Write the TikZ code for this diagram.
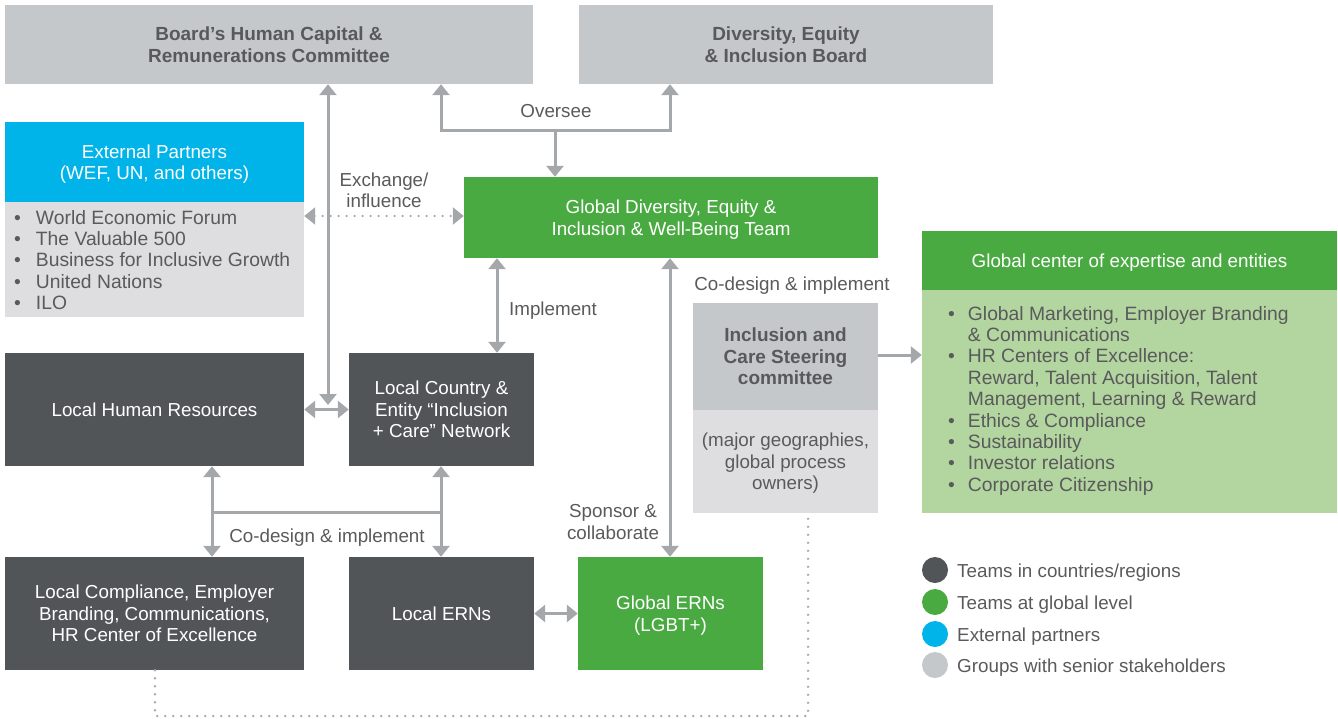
\documentclass[tikz,border=0pt]{standalone}
\usepackage{fontspec}
\setmainfont{Liberation Sans}
\usetikzlibrary{arrows.meta}
\definecolor{boardgray}{HTML}{C5C8CB}
\definecolor{palegray}{HTML}{DEDEE0}
\definecolor{darkbox}{HTML}{525558}
\definecolor{greenbox}{HTML}{4AAA42}
\definecolor{palegreen}{HTML}{B3D59F}
\definecolor{cyanbox}{HTML}{00B4EA}
\definecolor{arrowgray}{HTML}{A5A8AB}
\definecolor{textgray}{HTML}{5A5A5C}
\definecolor{boldgray}{HTML}{58595B}
\begin{document}
\begin{tikzpicture}[x=1pt,y=-1pt,
  txt/.style={font=\fontsize{18.8}{21.5}\selectfont, align=center, inner sep=0pt},
  listtxt/.style={font=\fontsize{19.3}{21.4}\selectfont, align=left, inner sep=0pt, text=textgray, anchor=north west},
  boxtxt/.style={txt, text depth=0pt},
  darkbx/.style={boxtxt, fill=darkbox, text=white},
  greenbx/.style={boxtxt, fill=greenbox, text=white},
  graybx/.style={boxtxt, fill=boardgray, text=boldgray, font=\fontsize{19}{21.5}\selectfont\bfseries},
  palebx/.style={boxtxt, fill=palegray, text=textgray},
  lbl/.style={txt, text depth=0pt, text=textgray},
  conn/.style={draw=arrowgray, line width=3pt, line join=miter, >={Triangle[width=17pt,length=11pt]}},
  dots/.style={draw=arrowgray, line width=2.6pt, line cap=round, dash pattern=on 0pt off 8pt},
  legdot/.style={circle, minimum size=26pt, inner sep=0pt}
]
\useasboundingbox (0,0) rectangle (1338,720);

% top boards
\node[graybx, minimum width=528pt, minimum height=79pt] (board) at (269,44.5) {Board’s Human Capital \&\\Remunerations Committee};
\node[graybx, minimum width=414pt, minimum height=79pt] (dei) at (786,44.5) {Diversity, Equity\\\& Inclusion Board};

% external partners
\node[boxtxt, fill=cyanbox, text=white, minimum width=299pt, minimum height=80pt] (exth) at (154.5,162) {External Partners\\(WEF, UN, and others)};
\node[palebx, minimum width=299pt, minimum height=115pt] (extb) at (154.5,259.5) {};
\node[listtxt] (extlist) at (14,210)
 {\textbullet\hspace{15pt}World Economic Forum\\
  \textbullet\hspace{15pt}The Valuable 500\\
  \textbullet\hspace{15pt}Business for Inclusive Growth\\
  \textbullet\hspace{15pt}United Nations\\
  \textbullet\hspace{15pt}ILO};

% global DEI team
\node[greenbx, minimum width=414pt, minimum height=81pt] (gdei) at (671,217.5) {Global Diversity, Equity \&\\Inclusion \& Well-Being Team};

% local boxes
\node[darkbx, minimum width=299pt, minimum height=113pt] (lhr) at (154.5,409.5) {Local Human Resources};
\node[darkbx, minimum width=185pt, minimum height=113pt] (lcn) at (441.5,409.5) {Local Country \&\\Entity “Inclusion\\+ Care” Network};
\node[darkbx, minimum width=299pt, minimum height=113pt] (lcomp) at (154.5,613.5) {Local Compliance, Employer\\Branding, Communications,\\HR Center of Excellence};
\node[darkbx, minimum width=185pt, minimum height=113pt] (lern) at (441.5,613.5) {Local ERNs};
\node[greenbx, minimum width=185pt, minimum height=113pt] (gern) at (670.5,613.5) {Global ERNs\\(LGBT+)};

% steering committee
\node[graybx, minimum width=185pt, minimum height=107pt] (steer) at (785.5,356.5) {Inclusion and\\Care Steering\\committee};
\node[palebx, minimum width=185pt, minimum height=103pt] (steerlow) at (785.5,461.5) {(major geographies,\\global process\\owners)};

% global center
\node[greenbx, minimum width=415pt, minimum height=59pt] (gceh) at (1129.5,260.5) {Global center of expertise and entities};
\node[boxtxt, fill=palegreen, minimum width=415pt, minimum height=223pt] (gceb) at (1129.5,401.5) {};
\node[listtxt] (gcelist) at (948,306)
 {\textbullet\hspace{13pt}Global Marketing, Employer Branding\\
  \phantom{\textbullet}\hspace{13pt}\& Communications\\
  \textbullet\hspace{13pt}HR Centers of Excellence:\\
  \phantom{\textbullet}\hspace{13pt}Reward, Talent Acquisition, Talent\\
  \phantom{\textbullet}\hspace{13pt}Management, Learning \& Reward\\
  \textbullet\hspace{13pt}Ethics \& Compliance\\
  \textbullet\hspace{13pt}Sustainability\\
  \textbullet\hspace{13pt}Investor relations\\
  \textbullet\hspace{13pt}Corporate Citizenship};

% helper coordinates
\coordinate (xa) at (328,0);
\coordinate (xb) at (441,0);
\coordinate (xc) at (670,0);
\coordinate (xd) at (555,0);
\coordinate (xe) at (497,0);
\coordinate (xf) at (212,0);
\coordinate (xg) at (155,0);
\coordinate (xh) at (808,0);
\coordinate (yo) at (0,130);
\coordinate (yx) at (0,216);
\coordinate (ys) at (0,355);
\coordinate (yc) at (0,512);
\coordinate (yd) at (0,716);
\coordinate (hrjoin) at (328,405);

% connectors
\draw[conn,<->] (board.south -| xa) -- (hrjoin);
\draw[conn,<->] (lhr.east) -- (lcn.west);
\draw[conn,<->] (board.south -| xb) -- (xb |- yo) -- (xc |- yo) -- (dei.south -| xc);
\draw[conn,->] (xd |- yo) -- (gdei.north -| xd);
\draw[conn,dots,<->] (extb.east |- yx) -- (gdei.west |- yx);
\draw[conn,<->] (gdei.south -| xe) -- (lcn.north -| xe);
\draw[conn,<->] (gdei.south -| xc) -- (gern.north -| xc);
\draw[conn,->] (steer.east |- ys) -- (gceb.west |- ys);
\draw[conn,<->] (lhr.south -| xf) -- (lcomp.north -| xf);
\draw[conn,<->] (lcn.south -| xb) -- (lern.north -| xb);
\draw[conn] (xf |- yc) -- (xb |- yc);
\draw[conn,<->] (lern.east) -- (gern.west);
\draw[dots] (lcomp.south -| xg) -- (xg |- yd) -- (xh |- yd) -- (steerlow.south -| xh);

% labels
\node[lbl] (l1) at (556,111) {Oversee};
\node[lbl] (l2) at (384,190) {Exchange/\\influence};
\node[lbl] (l3) at (553,309) {Implement};
\node[lbl] (l4) at (792,284) {Co-design \& implement};
\node[lbl] (l5) at (613,522) {Sponsor \&\\collaborate};
\node[lbl] (l6) at (327,536) {Co-design \& implement};

% legend
\node[legdot, fill=darkbox] (d1) at (935,570) {};
\node[legdot, fill=greenbox] (d2) at (935,602) {};
\node[legdot, fill=cyanbox] (d3) at (935,634) {};
\node[legdot, fill=boardgray] (d4) at (935,665) {};
\node[lbl, anchor=west] (t1) at (957,571) {Teams in countries/regions};
\node[lbl, anchor=west] (t2) at (957,603) {Teams at global level};
\node[lbl, anchor=west] (t3) at (957,635) {External partners};
\node[lbl, anchor=west] (t4) at (957,666) {Groups with senior stakeholders};
\end{tikzpicture}
\end{document}
